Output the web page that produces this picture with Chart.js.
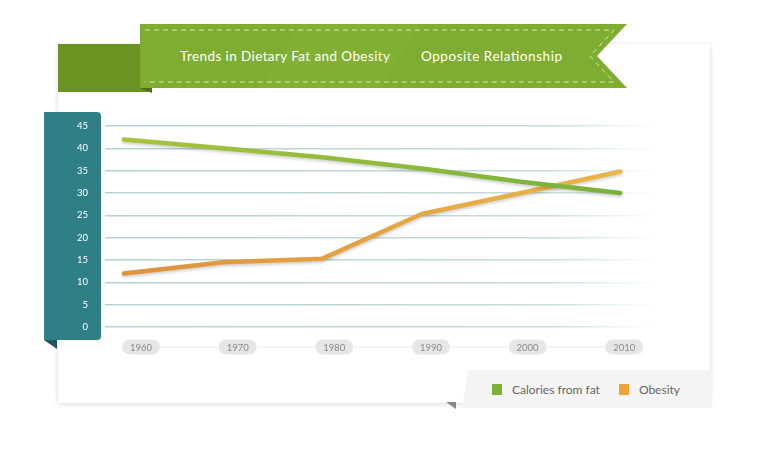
<!DOCTYPE html>
<html>
<head>
<meta charset="utf-8">
<script src="https://cdn.jsdelivr.net/npm/chart.js@4.4.1/dist/chart.umd.min.js"></script>
<style>
html, body { margin: 0; padding: 0; background: #fff; }
body { width: 768px; height: 454px; position: relative; overflow: hidden; font-family: Lato, "Open Sans", sans-serif; }
.card { position: absolute; left: 58px; top: 44px; width: 652px; height: 359px; background: #fff; box-shadow: 0 1px 5px rgba(0,0,0,0.16); }
.tab { position: absolute; left: 58px; top: 44px; width: 94px; height: 48px; background: #6a9322; }
#banner { position: absolute; left: 0; top: 0; }
.yband { position: absolute; left: 44px; top: 112px; width: 57px; height: 228px; background: #2f7f87; border-radius: 0 4px 4px 0; }
.fold { position: absolute; left: 44px; top: 340px; width: 0; height: 0; border-top: 9px solid #1c555b; border-left: 13px solid transparent; }
.legend { position: absolute; left: 462px; top: 370px; width: 250px; height: 38px; box-sizing: border-box; padding-left: 30px; background: #f4f4f4;
  clip-path: polygon(6px 0, 100% 0, 100% 100%, 0 100%);
  display: flex; align-items: center; font-size: 12px; color: #666; }
.legend span.sw { display: inline-block; width: 10px; height: 11px; margin-right: 10px; }
.legend .item { display: flex; align-items: center; margin-right: 19px; }
.pointer { position: absolute; left: 446px; top: 402px; width: 0; height: 0; border-top: 7px solid #888; border-left: 10px solid transparent; }
canvas { position: absolute; left: 0; top: 0; }
</style>
</head>
<body>
<div class="card"></div>
<div class="tab"></div>
<svg id="banner" width="768" height="120">
  <polygon points="140,88 152,88 152,93" fill="#4d6f18"/>
  <polygon points="140,24 627,24 597,56 627,88 140,88" fill="#7fad31"/>
  <polygon points="300,24 420,24 380,88 260,88" fill="#86b338" opacity="0.5"/>
  <polyline points="145,30 614,30 590,56 614,82 145,82" fill="none" stroke="#d8ecae" stroke-width="1" stroke-dasharray="5,4"/>
  <text x="180" y="61" fill="#fff" font-family="Lato, 'Open Sans', sans-serif" font-size="13.5" textLength="210">Trends in Dietary Fat and Obesity</text>
  <text x="421" y="61" fill="#fff" font-family="Lato, 'Open Sans', sans-serif" font-size="13.5" textLength="141">Opposite Relationship</text>
</svg>
<div class="yband"></div>
<div class="fold"></div>
<div class="pointer"></div>
<div class="legend" id="legend"></div>
<canvas id="chart" width="768" height="454"></canvas>
<script>
const years = [1960, 1970, 1980, 1990, 2000, 2010];
const caloriesFromFat = [42, 40, 38, 35.5, 32.5, 30];
const obesity = [12, 14.5, 15.3, 25.3, 30, 34.8];
const seriesNames = ["Calories from fat", "Obesity"];
const seriesColors = ["#7db234", "#f0a33a"];
const yTicks = [0, 5, 10, 15, 20, 25, 30, 35, 40, 45];

// html legend
const legend = document.getElementById("legend");
seriesNames.forEach((name, i) => {
    const item = document.createElement("div");
    item.className = "item";
    item.innerHTML = `<span class="sw" style="background:${seriesColors[i]}"></span>${name}`;
    legend.appendChild(item);
});

function lineGradient(ctx, from, to) {
    const area = ctx.chart.chartArea;
    if (!area) return from;
    const g = ctx.chart.ctx.createLinearGradient(area.left, 0, area.right, 0);
    g.addColorStop(0, from);
    g.addColorStop(1, to);
    return g;
}

function gridFade(ctx) {
    const area = ctx.chart.chartArea;
    if (!area) return "#bcd7d7";
    const g = ctx.chart.ctx.createLinearGradient(area.left, 0, area.right, 0);
    g.addColorStop(0, "#b5d2d2");
    g.addColorStop(0.8, "#c4dcdc");
    g.addColorStop(1, "rgba(210,230,230,0)");
    return g;
}

// grey pills behind the year labels
const yearPills = {
    id: "yearPills",
    beforeDraw(chart) {
        const scale = chart.scales.x2;
        const c = chart.ctx;
        const y = chart.chartArea.bottom + 20;
        c.save();
        c.strokeStyle = "#ececec";
        c.lineWidth = 1;
        c.beginPath();
        c.moveTo(scale.getPixelForValue(years[0]), y);
        c.lineTo(scale.getPixelForValue(years[years.length - 1]), y);
        c.stroke();
        c.fillStyle = "#e6e6e6";
        years.forEach((yr) => {
            const x = scale.getPixelForValue(yr);
            c.beginPath();
            c.roundRect(x - 19, y - 7.5, 38, 15, 7.5);
            c.fill();
        });
        c.restore();
    },
};

const lineShadow = {
    id: "lineShadow",
    beforeDatasetsDraw(chart) {
        const c = chart.ctx;
        c.save();
        c.shadowColor = "rgba(0,0,0,0.18)";
        c.shadowBlur = 3;
        c.shadowOffsetY = 2;
    },
    afterDatasetsDraw(chart) {
        chart.ctx.restore();
    },
};

new Chart(document.getElementById("chart"), {
    type: "line",
    data: {
        datasets: [
            {
                label: seriesNames[0],
                data: years.map((yr, i) => ({ x: yr, y: caloriesFromFat[i] })),
                borderColor: (ctx) => lineGradient(ctx, "#a9c43c", "#74b03a"),
                borderWidth: 4.5,
            },
            {
                label: seriesNames[1],
                data: years.map((yr, i) => ({ x: yr, y: obesity[i] })),
                borderColor: (ctx) => lineGradient(ctx, "#df913b", "#eab94b"),
                borderWidth: 4.5,
            },
        ],
    },
    options: {
        responsive: false,
        animation: false,
        layout: { padding: { left: 65, right: 108, top: 126, bottom: 87 } },
        elements: {
            point: { radius: 0 },
            line: { tension: 0, borderCapStyle: "round", borderJoinStyle: "round" },
        },
        plugins: {
            legend: { display: false },
            tooltip: { enabled: false },
        },
        scales: {
            x: {
                type: "linear",
                display: false,
                min: 1958.1,
                max: 2014,
            },
            x2: {
                type: "linear",
                position: "bottom",
                min: 1956.27,
                max: 2013.7,
                afterBuildTicks: (scale) => { scale.ticks = years.map((v) => ({ value: v })); },
                afterFit: (scale) => { scale.height = 40; },
                grid: { display: false, drawTicks: false },
                border: { display: false },
                ticks: {
                    padding: 15,
                    color: "#8a8a8a",
                    font: { family: "Lato", size: 9.5 },
                    callback: (v) => String(v),
                },
            },
            y: {
                min: 0,
                max: 45,
                afterBuildTicks: (scale) => { scale.ticks = yTicks.map((v) => ({ value: v })); },
                afterFit: (scale) => { scale.width = 40; },
                grid: { color: gridFade, lineWidth: 1.5, drawTicks: false },
                border: { display: false },
                ticks: {
                    padding: 17,
                    color: "#ffffff",
                    font: { family: "Lato", size: 9.5 },
                },
            },
        },
    },
    plugins: [yearPills, lineShadow],
});
</script>
</body>
</html>
